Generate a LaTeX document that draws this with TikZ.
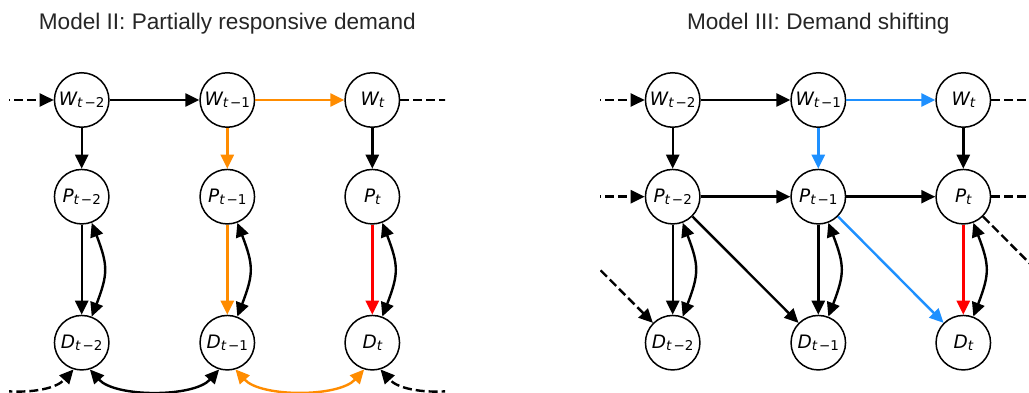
\documentclass[tikz,border=0pt]{standalone}
\usepackage{fontspec}
\setmainfont{Liberation Sans}
\newfontfamily\dejavu{DejaVu Sans}
\usetikzlibrary{arrows.meta}
\definecolor{morange}{RGB}{255,140,0}
\definecolor{mblue}{RGB}{30,144,255}
\definecolor{mred}{RGB}{255,0,0}
\definecolor{titlegray}{RGB}{38,38,38}
% random-variable label: italic letter with a subscript t, t-1, t-2
\newcommand{\rv}[2]{{\dejavu\fontsize{18.5}{20}\selectfont\itshape #1}\raisebox{-2pt}{\dejavu\fontsize{13.5}{14}\selectfont{\itshape t}#2}}
\begin{document}
\begin{tikzpicture}[x=1pt,y=1pt,
  var/.style={circle, draw, line width=1.5pt, minimum size=54.5pt, inner sep=0pt, fill=white},
  tip/.style={-{Triangle[length=14pt,width=13pt]}},
  link/.style={line width=2.4pt, tip},
  twoway/.style={line width=2.4pt, {Triangle[length=14pt,width=13pt]}-{Triangle[length=14pt,width=13pt]}},
  dlink/.style={line width=2.4pt, dash pattern=on 9pt off 4pt},
  heading/.style={font=\fontsize{22.6}{26}\selectfont, text=titlegray, anchor=base, inner sep=0pt}]
\useasboundingbox (0,0) rectangle (1029,-393);
\fill[white] (0,0) rectangle (1029,-393);

% ---------------- Model II ----------------
\node[heading] (headA) at (227.3,-29.5) {Model II: Partially responsive demand};

\node[var] (aW2) at (81.7,-100) {\rv{W}{\kern2pt−2}};
\node[var] (aW1) at (227.3,-100) {\rv{W}{\kern2pt−1}};
\node[var] (aW0) at (372.3,-100) {\rv{W}{}};
\node[var] (aP2) at (81.7,-196.7) {\rv{P}{\kern2pt−2}};
\node[var] (aP1) at (227.3,-196.7) {\rv{P}{\kern2pt−1}};
\node[var] (aP0) at (372.3,-196.7) {\rv{P}{}};
\node[var] (aD2) at (81.7,-342.7) {\rv{D}{\kern2pt−2}};
\node[var] (aD1) at (227.3,-342.7) {\rv{D}{\kern2pt−1}};
\node[var] (aD0) at (372.3,-342.7) {\rv{D}{}};

\draw[link] (aW2) -- (aW1);
\draw[link, morange] (aW1) -- (aW0);
\draw[link] (aW2) -- (aP2);
\draw[link, morange] (aW1) -- (aP1);
\draw[link] (aW0) -- (aP0);
\draw[link] (aP2) -- (aD2);
\draw[link, morange] (aP1) -- (aD1);
\draw[link, mred] (aP0) -- (aD0);
\foreach \c in {2,1,0}
  \draw[twoway] (aP\c.-69) to[out=-69,in=69,looseness=1.25] (aD\c.69);
\draw[twoway] (aD2.-73) to[out=-48,in=-132,looseness=0.75] (aD1.-107);
\draw[twoway, morange] (aD1.-73) to[out=-48,in=-132,looseness=0.75] (aD0.-107);

\begin{scope}
  \clip (9,0) rectangle (445,-393);
  \coordinate (aWprev) at (-63.9,-100);
  \coordinate (aWnext) at (517.9,-100);
  \coordinate (aDprev) at (-56.1,-368.2);
  \coordinate (aDnext) at (510.1,-368.2);
  \draw[dlink, tip] (aWprev) -- (aW2);
  \draw[dlink] (aW0) -- (aWnext);
  \draw[dlink, tip] (aDprev) to[out=-48,in=-132,looseness=0.75] (aD2.-107);
  \draw[dlink, tip] (aDnext) to[out=-132,in=-48,looseness=0.75] (aD0.-73);
\end{scope}

% ---------------- Model III ----------------
\node[heading] (headB) at (818.3,-29.5) {Model III: Demand shifting};

\node[var] (bW2) at (672.7,-100) {\rv{W}{\kern2pt−2}};
\node[var] (bW1) at (818.3,-100) {\rv{W}{\kern2pt−1}};
\node[var] (bW0) at (963.3,-100) {\rv{W}{}};
\node[var] (bP2) at (672.7,-196.7) {\rv{P}{\kern2pt−2}};
\node[var] (bP1) at (818.3,-196.7) {\rv{P}{\kern2pt−1}};
\node[var] (bP0) at (963.3,-196.7) {\rv{P}{}};
\node[var] (bD2) at (672.7,-342.7) {\rv{D}{\kern2pt−2}};
\node[var] (bD1) at (818.3,-342.7) {\rv{D}{\kern2pt−1}};
\node[var] (bD0) at (963.3,-342.7) {\rv{D}{}};

\draw[link] (bW2) -- (bW1);
\draw[link, mblue] (bW1) -- (bW0);
\draw[link] (bP2) -- (bP1);
\draw[link] (bP1) -- (bP0);
\draw[link] (bW2) -- (bP2);
\draw[link, mblue] (bW1) -- (bP1);
\draw[link] (bW0) -- (bP0);
\draw[link] (bP2) -- (bD2);
\draw[link] (bP1) -- (bD1);
\draw[link, mred] (bP0) -- (bD0);
\draw[link] (bP2) -- (bD1);
\draw[link, mblue] (bP1) -- (bD0);
\foreach \c in {2,1,0}
  \draw[twoway] (bP\c.-69) to[out=-69,in=69,looseness=1.25] (bD\c.69);

\begin{scope}
  \clip (600,0) rectangle (1029,-393);
  \coordinate (bWprev) at (527.2,-100);
  \coordinate (bPprev) at (527.2,-196.7);
  \coordinate (bWnext) at (1108.8,-100);
  \coordinate (bPnext) at (1108.8,-196.7);
  \coordinate (bDnext) at (1108.8,-342.7);
  \draw[dlink, tip] (bWprev) -- (bW2);
  \draw[dlink, tip] (bPprev) -- (bP2);
  \draw[dlink, tip] (bPprev) -- (bD2);
  \draw[dlink] (bW0) -- (bWnext);
  \draw[dlink] (bP0) -- (bPnext);
  \draw[dlink] (bP0) -- (bDnext);
\end{scope}
\end{tikzpicture}
\end{document}
